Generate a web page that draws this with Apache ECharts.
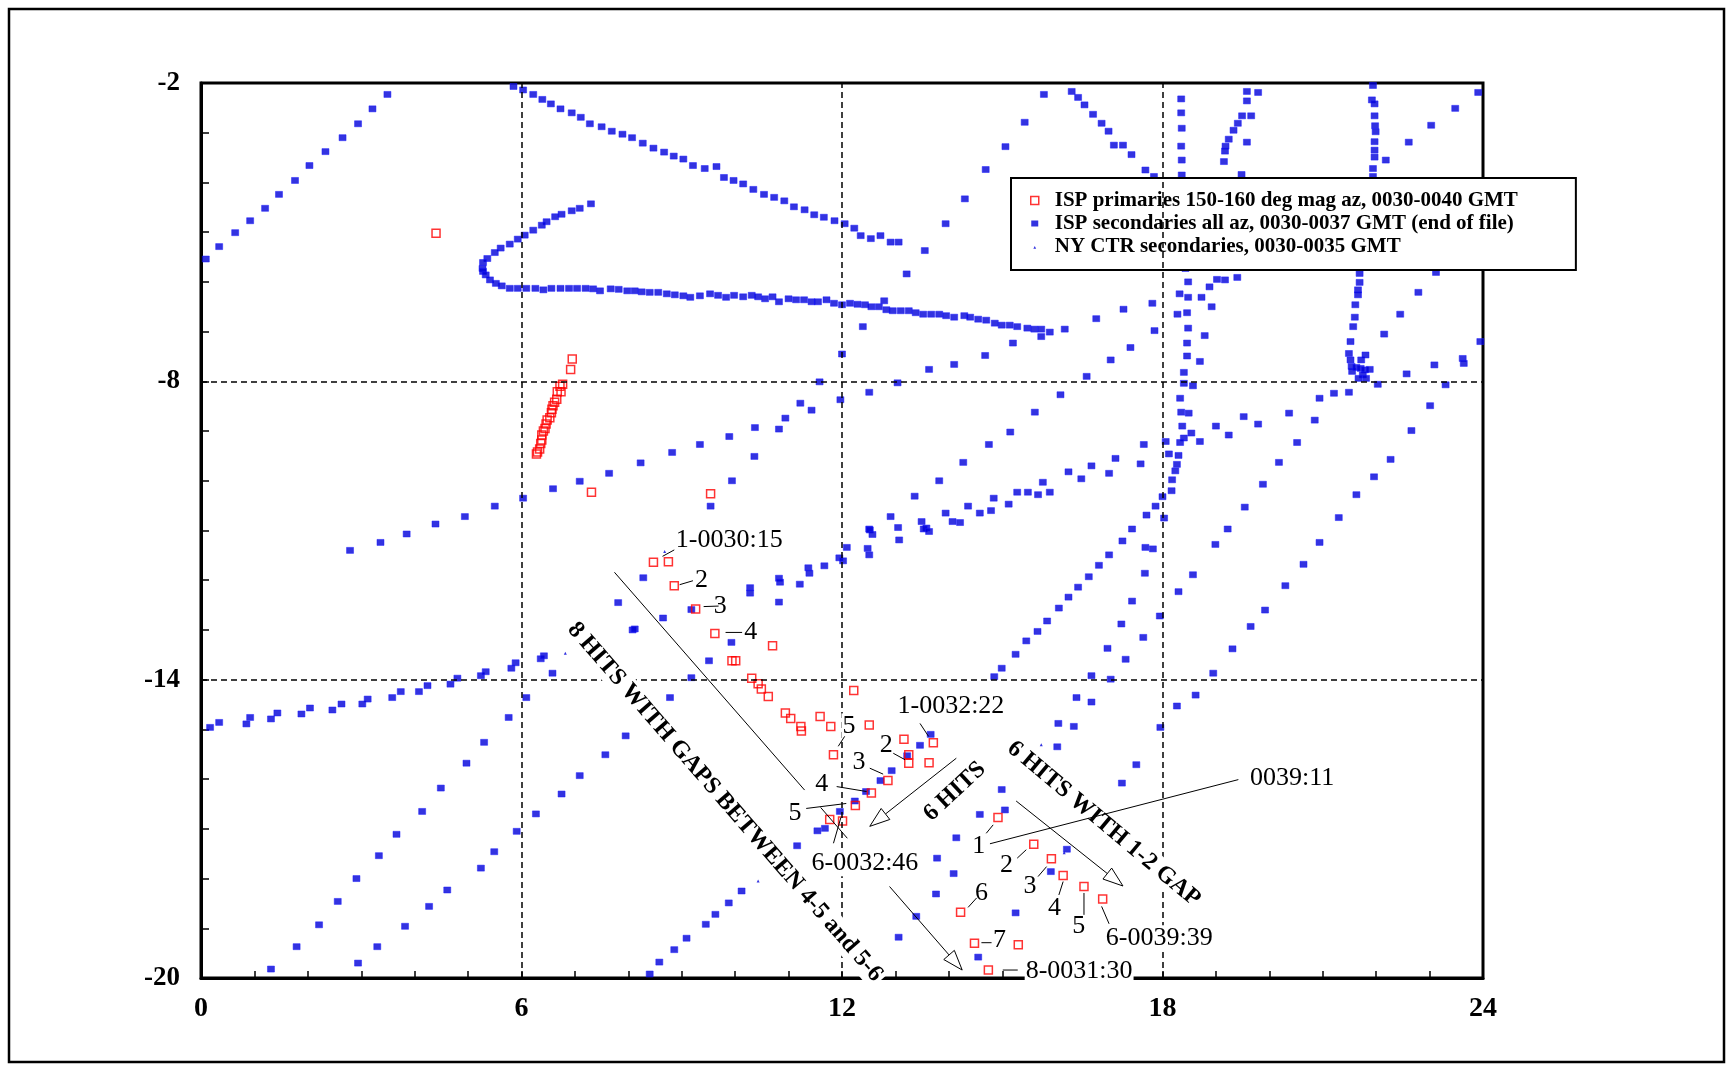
<!DOCTYPE html>
<html><head><meta charset="utf-8">
<script src="https://cdn.jsdelivr.net/npm/echarts@6/dist/echarts.min.js"></script>
<style>html,body{margin:0;padding:0;background:#fff;}#c{width:1733px;height:1065px;}</style>
</head><body><div id="c"></div>
<script>
// ---------- axis ticks / labels ----------
const xTickLabels = [0, 6, 12, 18, 24];
const yTickLabels = [-20, -14, -8, -2];
const xMinorTicks = [0,1,2,3,4,5,6,7,8,9,10,11,12,13,14,15,16,17,18,19,20,21,22,23,24];
const yMinorTicks = [-20,-19,-18,-17,-16,-15,-14,-13,-12,-11,-10,-9,-8,-7,-6,-5,-4,-3,-2];
const xGridLines = [6, 12, 18];
const yGridLines = [-8, -14];

// ---------- series names ----------
const seriesNames = [
  'ISP primaries 150-160 deg mag az, 0030-0040 GMT',
  'ISP secondaries all az, 0030-0037 GMT (end of file)',
  'NY CTR secondaries, 0030-0035 GMT'
];

// ---------- data ----------
const ispPrimaries = [
  [4.40,-5.02],
  [6.95,-7.55],[6.92,-7.76],[6.77,-8.06],[6.72,-8.10],[6.74,-8.21],[6.67,-8.21],[6.66,-8.36],[6.62,-8.42],[6.59,-8.49],[6.57,-8.56],[6.56,-8.63],[6.53,-8.73],[6.48,-8.78],[6.46,-8.86],[6.44,-8.95],[6.41,-9.00],[6.38,-9.08],[6.38,-9.18],[6.36,-9.25],[6.34,-9.36],[6.30,-9.42],[6.28,-9.46],
  [7.31,-10.23],[9.54,-10.26],
  [8.47,-11.64],[8.75,-11.63],[8.86,-12.11],[9.26,-12.58],[9.62,-13.07],[10.70,-13.32],[9.94,-13.62],[10.01,-13.62],[10.31,-13.97],[10.43,-14.08],[10.49,-14.19],[10.62,-14.34],[12.22,-14.22],[10.94,-14.67],[11.04,-14.78],[11.23,-14.94],[11.24,-15.03],[11.59,-14.74],[11.79,-14.94],[12.51,-14.91],[13.16,-15.20],[11.84,-15.51],[13.25,-15.68],[13.25,-15.51],[13.63,-15.67],[13.71,-15.27],[12.86,-16.03],[12.55,-16.28],[12.25,-16.53],[11.77,-16.81],[12.01,-16.84],
  [14.92,-16.77],[15.59,-17.31],[15.92,-17.60],[16.14,-17.94],[16.53,-18.16],[16.88,-18.41],[14.22,-18.68],[14.48,-19.30],[15.30,-19.33],[14.74,-19.84]
];

const ispSecondaries = [
  [0.09,-5.54],[0.34,-5.29],[0.64,-5.01],[0.92,-4.77],[1.20,-4.52],[1.46,-4.24],[1.76,-3.96],[2.03,-3.66],[2.33,-3.38],[2.65,-3.10],[2.94,-2.82],[3.21,-2.52],[3.49,-2.23],
  [5.85,-2.07],[6.03,-2.14],[6.22,-2.23],[6.39,-2.33],[6.55,-2.42],[6.73,-2.52],[6.94,-2.60],[7.11,-2.69],[7.28,-2.82],[7.50,-2.88],[7.69,-2.97],[7.89,-3.03],[8.07,-3.10],[8.27,-3.21],[8.47,-3.31],[8.67,-3.39],[8.85,-3.47],[9.03,-3.53],[9.21,-3.66],[9.43,-3.72],[9.65,-3.68],[9.79,-3.90],[9.97,-3.96],[10.15,-4.03],[10.34,-4.14],[10.54,-4.24],[10.73,-4.30],[10.92,-4.37],[11.10,-4.49],[11.30,-4.55],[11.48,-4.65],[11.66,-4.70],[11.86,-4.77],[12.05,-4.83],[12.23,-4.92],[12.35,-5.07],[12.54,-5.13],[12.72,-5.07],[12.91,-5.20],[13.06,-5.20],
  [13.21,-5.84],[13.55,-5.37],[13.94,-4.83],[14.30,-4.33],[14.69,-3.74],[15.06,-3.28],[15.42,-2.79],[15.78,-2.23],
  [7.30,-4.43],[7.09,-4.52],[6.94,-4.57],[6.75,-4.64],[6.63,-4.69],[6.47,-4.79],[6.38,-4.86],[6.22,-4.96],[6.06,-5.06],[5.93,-5.14],[5.78,-5.24],[5.61,-5.32],[5.50,-5.41],[5.36,-5.53],[5.28,-5.61],[5.27,-5.73],[5.28,-5.79],[5.33,-5.86],[5.41,-5.96],[5.52,-6.03],[5.63,-6.08],[5.78,-6.13],[5.93,-6.13],[6.09,-6.13],[6.26,-6.13],[6.41,-6.16],[6.56,-6.13],[6.73,-6.13],[6.89,-6.13],[7.04,-6.13],[7.20,-6.13],[7.34,-6.14],[7.47,-6.18],[7.67,-6.14],[7.82,-6.15],[7.98,-6.18],[8.12,-6.18],[8.25,-6.20],[8.40,-6.21],[8.56,-6.21],[8.72,-6.24],[8.87,-6.26],[9.03,-6.28],[9.16,-6.31],[9.34,-6.28],[9.53,-6.24],[9.68,-6.27],[9.83,-6.31],[9.98,-6.27],[10.15,-6.30],[10.31,-6.27],[10.43,-6.30],[10.56,-6.34],[10.70,-6.30],[10.82,-6.40],[11.00,-6.34],[11.14,-6.36],[11.29,-6.36],[11.43,-6.40],[11.55,-6.40],[11.71,-6.36],[11.85,-6.43],[12.00,-6.46],[12.15,-6.43],[12.29,-6.45],[12.43,-6.46],[12.55,-6.50],[12.69,-6.50],[12.79,-6.38],[12.83,-6.56],[12.95,-6.58],[13.10,-6.58],[13.25,-6.58],[13.38,-6.62],[13.52,-6.65],[13.67,-6.65],[13.82,-6.65],[13.95,-6.68],[14.10,-6.71],[14.29,-6.68],[14.40,-6.71],[14.55,-6.75],[14.70,-6.77],[14.86,-6.83],[14.99,-6.87],[15.14,-6.87],[15.28,-6.90],[15.47,-6.93],[15.60,-6.95],[15.73,-6.95],[15.89,-7.01],[15.73,-7.10],[15.20,-7.23],[16.17,-6.95],
  [12.39,-6.90],[12.00,-7.45],[11.58,-8.01],[11.22,-8.44],[11.43,-8.58],[10.94,-8.74],[10.82,-8.96],[10.37,-8.93],[10.36,-9.51],[9.89,-9.11],[9.94,-10.00],[9.34,-9.27],[8.82,-9.43],[8.23,-9.64],[9.54,-10.51],[11.97,-8.37],[12.51,-8.22],[13.04,-8.03],[13.63,-7.76],[14.10,-7.66],[14.68,-7.48],[16.09,-8.27],[15.61,-8.62],[15.15,-9.02],[14.75,-9.27],[14.27,-9.63],[13.82,-10.00],[13.36,-10.31],[12.91,-10.72],[12.51,-10.97],[13.05,-10.94],[13.49,-10.82],[13.58,-10.95],[13.94,-10.65],[14.07,-10.82],[14.21,-10.84],[14.36,-10.51],[14.58,-10.65],[14.79,-10.60],[14.84,-10.35],[15.12,-10.47],[15.28,-10.23],[15.48,-10.23],[15.67,-10.28],[15.76,-10.03],[15.89,-10.23],
  [6.59,-10.16],[7.09,-10.01],[7.64,-9.85],[6.03,-10.35],[5.50,-10.51],[4.94,-10.72],[4.39,-10.87],
  [16.30,-2.17],[16.42,-2.29],[16.54,-2.44],[16.70,-2.63],[16.86,-2.81],[16.99,-2.97],[17.09,-3.25],[17.26,-3.25],[17.42,-3.44],[17.68,-3.75],[17.84,-3.88],
  [18.35,-2.32],[18.35,-2.60],[18.36,-2.91],[18.35,-3.27],[18.36,-3.55],[18.36,-3.85],
  [19.58,-2.17],[19.79,-2.19],[19.58,-2.36],[19.49,-2.66],[19.66,-2.66],[19.41,-2.81],[19.33,-2.95],[19.24,-3.13],[19.18,-3.27],[19.17,-3.37],[19.15,-3.58],[19.58,-3.19],[19.48,-3.84],
  [21.94,-2.05],[21.92,-2.34],[21.97,-2.42],[21.97,-2.66],[21.98,-2.86],[21.99,-2.98],[21.97,-3.18],[21.97,-3.35],[21.97,-3.49],[21.94,-3.72],[21.94,-3.88],
  [22.18,-3.55],[22.61,-3.19],[23.03,-2.85],[23.48,-2.51],[23.91,-2.19],
  [18.43,-5.73],[18.48,-6.00],[18.32,-6.24],[18.48,-6.31],[18.46,-6.62],[18.28,-6.65],[18.48,-6.93],[18.46,-7.23],[18.46,-7.49],[18.40,-7.82],[18.40,-8.04],[18.33,-8.34],[18.35,-8.62],[18.49,-8.64],[18.37,-8.90],[18.40,-9.14],[18.33,-9.23],[18.30,-9.49],[18.12,-9.46],[18.06,-9.21],[18.27,-9.67],[18.24,-9.80],[18.18,-9.98],[18.17,-10.20],[18.00,-10.32],[17.87,-10.51],[17.70,-10.69],[18.03,-10.75],[17.43,-10.97],
  [18.88,-6.10],[19.02,-5.95],[19.17,-5.96],[19.40,-5.91],[18.73,-6.31],[18.92,-6.50],[18.79,-7.08],[18.70,-7.60],[18.57,-8.09],[18.54,-9.04],[18.70,-9.21],[19.00,-8.90],[19.24,-9.08],[19.52,-8.71],[19.79,-8.86],[20.37,-8.64],[20.52,-9.23],[20.85,-8.78],[20.18,-9.63],[19.88,-10.07],[19.54,-10.53],[21.30,-10.74],[21.63,-10.28],[21.96,-9.92],[22.27,-9.57],[22.66,-8.99],[23.01,-8.49],[23.30,-8.07],[23.09,-7.67],[22.57,-7.85],[23.62,-7.54],[23.64,-7.64],[23.95,-7.20],[22.15,-7.05],[22.45,-6.65],[22.79,-6.21],[23.12,-5.81],[20.94,-8.34],[21.21,-8.24],[21.49,-8.22],[22.03,-8.06],
  [21.69,-5.83],[21.69,-6.01],[21.66,-6.16],[21.66,-6.26],[21.61,-6.46],[21.60,-6.71],[21.57,-6.90],[21.52,-7.20],[21.49,-7.44],[21.52,-7.57],[21.54,-7.70],[21.55,-7.80],[21.63,-7.72],[21.72,-7.57],[21.80,-7.47],[21.71,-7.74],[21.79,-7.77],[21.88,-7.76],[21.75,-7.87],[21.81,-7.94],[21.67,-7.94],
  [16.76,-6.74],[17.27,-6.55],[17.81,-6.43],[17.85,-6.98],[17.40,-7.32],[17.03,-7.57],[16.58,-7.90],[17.65,-9.27],[17.12,-9.55],[16.67,-9.70],[16.24,-9.82],[16.48,-9.96],[17.00,-9.85],[17.59,-9.66],
  [2.79,-11.40],[3.36,-11.24],[3.85,-11.07],[7.81,-12.45],[8.08,-13.00],
  [0.17,-14.96],[0.34,-14.86],[0.85,-14.89],[0.92,-14.76],[1.31,-14.79],[1.43,-14.67],[1.88,-14.69],[2.04,-14.57],[2.46,-14.61],[2.63,-14.49],[3.02,-14.49],[3.12,-14.39],[3.58,-14.36],[3.74,-14.24],[4.08,-14.24],[4.24,-14.12],[4.67,-14.09],[4.80,-13.97],[5.24,-13.92],[5.33,-13.84],[5.81,-13.77],[5.89,-13.66],[6.36,-13.58],[6.42,-13.52],[6.58,-13.87],[6.09,-14.36],
  [1.31,-19.82],[1.79,-19.37],[2.21,-18.93],[2.56,-18.46],[2.91,-18.00],[3.33,-17.54],[3.66,-17.11],[4.14,-16.65],[4.49,-16.18],[4.97,-15.68],[5.30,-15.26],[5.76,-14.76],
  [2.94,-19.70],[3.30,-19.37],[3.82,-18.96],[4.27,-18.56],[4.61,-18.23],[5.24,-17.79],[5.49,-17.46],[5.91,-17.05],[6.27,-16.70],[6.75,-16.30],[7.09,-15.93],[7.57,-15.51],[7.95,-15.13],
  [8.28,-11.95],[8.12,-12.98],[8.65,-12.76],[9.18,-12.59],[9.51,-13.62],[9.93,-13.25],[9.18,-13.96],[8.78,-14.36],
  [10.28,-12.15],[10.28,-12.26],[10.82,-11.96],[10.84,-12.04],[10.82,-12.44],[11.21,-12.08],[11.37,-11.75],[11.39,-11.86],[11.67,-11.71],[11.95,-11.55],[12.02,-11.61],[12.09,-11.34],[12.48,-11.36],[12.51,-11.49],[12.52,-10.99],[12.57,-11.08],[13.07,-11.19],[13.53,-10.97],[13.63,-11.02],
  [16.06,-12.56],[15.84,-12.82],[15.66,-13.03],[15.45,-13.22],[15.25,-13.49],[14.99,-13.77],[14.85,-13.94],[16.05,-14.88],[16.03,-15.35],
  [13.66,-15.10],[13.46,-15.32],[13.22,-15.53],[12.93,-15.83],[12.72,-16.03],[12.45,-16.25],[12.24,-16.44],[11.96,-16.65],[11.68,-16.99],[11.54,-17.04],[11.16,-17.34],
  [14.99,-16.21],[15.05,-16.62],[14.58,-16.71],[14.14,-17.18],[13.78,-17.59],[14.09,-17.90],[13.76,-18.31],[13.39,-18.76],[13.06,-19.18],[15.25,-18.69],[14.55,-19.58],[15.91,-17.86],
  [8.40,-19.92],[8.58,-19.68],[8.86,-19.43],[9.09,-19.20],[9.45,-18.92],[9.63,-18.72],[9.88,-18.49],[10.12,-18.25],
  [17.25,-11.21],[17.00,-11.49],[16.81,-11.70],[16.62,-11.93],[16.42,-12.14],[16.24,-12.34],[17.68,-11.34],[17.82,-11.37],[17.67,-11.86],[17.43,-12.42],[17.23,-12.88],[16.97,-13.37],[16.67,-13.92],[16.39,-14.36],[17.64,-13.15],[17.31,-13.59],[17.03,-13.99],[16.67,-14.45],[16.34,-14.94],[17.95,-12.72],[17.96,-14.96],[18.27,-14.53],[18.62,-14.31],[18.95,-13.87],[19.31,-13.38],[19.65,-12.93],[19.92,-12.60],[20.30,-12.11],[20.64,-11.68],[20.94,-11.24],[18.30,-12.23],[18.57,-11.89],[18.99,-11.28],[19.22,-10.97],[17.51,-15.71],[17.24,-16.08],[16.21,-17.41]
];

const nyCtrSecondaries = [
  [8.68,-11.42],[6.82,-13.47],[15.73,-15.31],[10.43,-18.05],[16.98,-16.78],[16.16,-17.48]
];

// ---------- annotations (data coordinates) ----------
const annotationLabels = [
  {text:'1-0030:15', at:[8.87,-11.20], align:'left'},
  {text:'2', at:[9.37,-11.99]},
  {text:'3', at:[9.72,-12.53]},
  {text:'4', at:[10.29,-13.05]},
  {text:'5', at:[12.13,-14.94]},
  {text:'1-0032:22', at:[13.02,-14.54], align:'left'},
  {text:'2', at:[12.83,-15.31]},
  {text:'3', at:[12.32,-15.66]},
  {text:'4', at:[11.62,-16.11]},
  {text:'5', at:[11.12,-16.69]},
  {text:'6-0032:46', at:[11.41,-17.69], align:'left'},
  {text:'0039:11', at:[19.62,-15.98], align:'left'},
  {text:'1', at:[14.56,-17.34]},
  {text:'2', at:[15.08,-17.74]},
  {text:'3', at:[15.52,-18.16]},
  {text:'4', at:[15.98,-18.60]},
  {text:'5', at:[16.43,-18.96]},
  {text:'6-0039:39', at:[16.92,-19.20], align:'left'},
  {text:'6', at:[14.61,-18.29]},
  {text:'7', at:[14.95,-19.23]},
  {text:'8-0031:30', at:[15.42,-19.86], align:'left'}
];
const rotatedLabels = [
  {text:'8 HITS WITH GAPS BETWEEN 4-5 and 5-6', at:[9.81,-16.46], rot:-49},
  {text:'6 HITS', at:[14.11,-16.25], rot:43},
  {text:'6 HITS WITH 1-2 GAP', at:[16.90,-16.90], rot:-40}
];
const leaderLines = [
  [[8.64,-11.52],[8.86,-11.39]],
  [[8.96,-12.09],[9.21,-12.01]],
  [[9.41,-12.53],[9.69,-12.52]],
  [[9.82,-13.05],[10.13,-13.05]],
  [[12.05,-15.14],[11.93,-15.34]],
  [[13.46,-14.88],[13.62,-15.14]],
  [[12.96,-15.48],[13.18,-15.61]],
  [[12.52,-15.78],[12.77,-15.90]],
  [[11.90,-16.15],[12.46,-16.25]],
  [[11.33,-16.59],[12.08,-16.49]],
  [[11.60,-16.57],[12.10,-17.19]],
  [[11.84,-17.29],[11.98,-16.77]],
  [[19.42,-16.01],[14.77,-17.30]],
  [[14.70,-17.09],[14.83,-16.92]],
  [[15.28,-17.59],[15.45,-17.42]],
  [[15.67,-17.96],[15.83,-17.76]],
  [[16.06,-18.33],[16.14,-18.06]],
  [[16.53,-18.29],[16.53,-18.73]],
  [[16.86,-18.56],[17.00,-18.91]],
  [[14.36,-18.58],[14.52,-18.39]],
  [[14.61,-19.29],[14.80,-19.29]],
  [[15.01,-19.84],[15.29,-19.84]],
  [[7.74,-11.84],[11.30,-16.22]]
];
const arrowLines = [
  [[14.14,-15.58],[12.52,-16.95]],
  [[15.26,-16.44],[17.26,-18.15]],
  [[12.89,-18.16],[14.25,-19.84]]
];

// ---------- chart ----------
const SERIF = "'Liberation Serif', 'DejaVu Serif', serif";
const chart = echarts.init(document.getElementById('c'), null, {renderer:'canvas'});

const option = {
  animation: false,
  backgroundColor: '#fff',
  grid: {left:201, top:83, right:250, bottom:87, show:true, borderColor:'#000', borderWidth:3, containLabel:false, outerBoundsMode:'none'},
  xAxis: {
    type:'value', min:0, max:24,
    axisLine:{show:true, onZero:false, lineStyle:{color:'#000', width:3}},
    axisTick:{show:true, inside:true, length:7, customValues:xMinorTicks, lineStyle:{color:'#000', width:1.5}},
    axisLabel:{customValues:xTickLabels, color:'#000', fontFamily:SERIF, fontWeight:'bold', fontSize:28, margin:17},
    splitLine:{show:false}
  },
  yAxis: {
    type:'value', min:-20, max:-2,
    axisLine:{show:true, onZero:false, lineStyle:{color:'#000', width:3}},
    axisTick:{show:true, inside:true, length:8, customValues:yMinorTicks, lineStyle:{color:'#000', width:1.5}},
    axisLabel:{customValues:yTickLabels, color:'#000', fontFamily:SERIF, fontWeight:'bold', fontSize:27, margin:21},
    splitLine:{show:false}
  },
  legend: {
    orient:'vertical', left:1011, top:178,
    backgroundColor:'#fff', borderColor:'#000', borderWidth:2, borderRadius:0,
    padding:[12,58,13,19],
    itemWidth:30, itemHeight:8, itemGap:2,
    selectedMode:false,
    textStyle:{fontFamily:SERIF, fontWeight:'bold', fontSize:21, color:'#000'},
    data:[
      {name:seriesNames[0], icon:'path://M0,0L8,0L8,8L0,8Z', itemStyle:{color:'#fff', borderColor:'#ff0000', borderWidth:1.5}},
      {name:seriesNames[1], icon:'path://M0,0M8,8M0.5,1L7.5,1L7.5,7L0.5,7Z', itemStyle:{color:'#0000d8', borderWidth:0}},
      {name:seriesNames[2], icon:'path://M0,0M8,8M2.6,6.2L4,3.6L5.4,6.2Z', itemStyle:{color:'#0000d8', borderWidth:0}}
    ]
  },
  series: [
    {
      type:'scatter', name:'grid-lines', data:[], z:1, silent:true,
      markLine:{silent:true, symbol:['none','none'], label:{show:false},
        lineStyle:{color:'#000', type:[6,4], width:1.5},
        emphasis:{disabled:true},
        data: xGridLines.map(v=>({xAxis:v})).concat(yGridLines.map(v=>({yAxis:v})))}
    },
    {
      type:'scatter', name:seriesNames[1], data:ispSecondaries, z:3,
      symbol:'rect', symbolSize:[7,6],
      itemStyle:{color:'#0000d8', borderColor:'#1a1aff', borderWidth:0.6}, emphasis:{disabled:true}
    },
    {
      type:'scatter', name:seriesNames[2], data:nyCtrSecondaries, z:3,
      symbol:'triangle', symbolSize:3,
      itemStyle:{color:'#0000d8'}, emphasis:{disabled:true}
    },
    {
      type:'scatter', name:seriesNames[0], data:ispPrimaries, z:4,
      symbol:'rect', symbolSize:8,
      itemStyle:{color:'rgba(255,255,255,0)', borderColor:'#ff0000', borderWidth:1.5}, emphasis:{disabled:true}
    }
  ]
};
chart.setOption(option);

function px(p){ return chart.convertToPixel({gridIndex:0}, p); }
const g = [];
// outer frame
g.push({type:'rect', silent:true, z:0, shape:{x:9, y:9, width:1715, height:1053}, style:{fill:'none', stroke:'#000', lineWidth:2.5}});
// labels
annotationLabels.forEach(a=>{
  const p = px(a.at);
  g.push({type:'text', silent:true, z:100, x:p[0], y:p[1],
    style:{text:a.text, fill:'#000', fontFamily:SERIF, fontSize:26, align:a.align||'center', verticalAlign:'middle', backgroundColor:'#fff', padding:[0,1]}});
});
rotatedLabels.forEach(a=>{
  const p = px(a.at);
  g.push({type:'text', silent:true, z:100, x:p[0], y:p[1], rotation:a.rot*Math.PI/180,
    style:{text:a.text, fill:'#000', fontFamily:SERIF, fontWeight:'bold', fontSize:24, align:'center', verticalAlign:'middle', backgroundColor:'#fff', padding:[1,3]}});
});
leaderLines.forEach(l=>{
  const a = px(l[0]), b = px(l[1]);
  g.push({type:'line', silent:true, z:101, shape:{x1:a[0], y1:a[1], x2:b[0], y2:b[1]}, style:{stroke:'#000', lineWidth:1}});
});
arrowLines.forEach(l=>{
  const a = px(l[0]), b = px(l[1]);
  const dx = b[0]-a[0], dy = b[1]-a[1], len = Math.hypot(dx,dy);
  const ux = dx/len, uy = dy/len, nx = -uy, ny = ux;
  const L = 20, W = 7;
  const bx = b[0]-ux*L, by = b[1]-uy*L;
  g.push({type:'line', silent:true, z:101, shape:{x1:a[0], y1:a[1], x2:bx, y2:by}, style:{stroke:'#000', lineWidth:1}});
  g.push({type:'polygon', silent:true, z:101, shape:{points:[[b[0],b[1]],[bx+nx*W,by+ny*W],[bx-nx*W,by-ny*W]]}, style:{fill:'#fff', stroke:'#000', lineWidth:1}});
});
chart.setOption({graphic: g});
</script>
</body></html>
